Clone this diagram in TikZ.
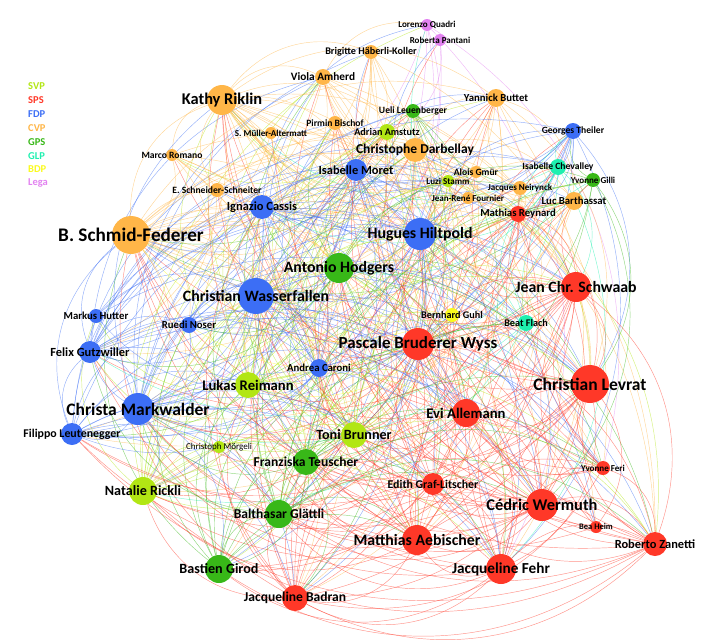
\documentclass[tikz,border=0pt]{standalone}
\usepackage{fontspec}
\setmainfont{Carlito}
\usetikzlibrary{positioning}
\definecolor{svp}{RGB}{178,230,20}
\definecolor{sps}{RGB}{255,56,40}
\definecolor{fdp}{RGB}{60,110,245}
\definecolor{cvp}{RGB}{255,182,72}
\definecolor{gps}{RGB}{56,184,24}
\definecolor{glp}{RGB}{30,240,175}
\definecolor{bdp}{RGB}{250,250,30}
\definecolor{lega}{RGB}{226,130,240}
\pgfdeclarelayer{edges}
\pgfdeclarelayer{labels}
\pgfsetlayers{edges,main,labels}
\tikzset{
  member/.style={circle, fill=#1, inner sep=0pt},
  name tag/.style={font=\bfseries\fontsize{#1}{#1}\selectfont, text=black, inner sep=0pt},
  link/.style={line width=0.45pt, draw=#1, draw opacity=0.55},
  party/.style={font=\bfseries\fontsize{10.5}{10.5}\selectfont, text=#1, anchor=west, inner sep=0pt}
}
\def\allnames{}
\begin{document}
\begin{tikzpicture}[x=1pt, y=-1pt]
		%%%%% START %%%%%
		\useasboundingbox (0,0) rectangle (720,640);
		\pgfmathsetseed{2015}
		
		% legend
		\node[party=svp] (lsvp) at (28, 86) {SVP};
		\node[party=sps] (lsps) at (28, 100) {SPS};
		\node[party=fdp] (lfdp) at (28, 114) {FDP};
		\node[party=cvp] (lcvp) at (28, 128) {CVP};
		\node[party=gps] (lgps) at (28, 142) {GPS};
		\node[party=glp] (lglp) at (28, 156) {GLP};
		\node[party=bdp] (lbdp) at (28, 169) {BDP};
		\node[party=lega] (llega) at (28, 183) {Lega};
		
		% members: name/x/y/radius/party/label size/label
		\foreach \nm/\x/\y/\r/\pc/\fs/\lb in {
			lquadri/427/25/6/lega/8/Lorenzo Quadri,
			rpantani/440/40/6/lega/8/Roberta Pantani,
			bhaeberli/371/52/7/cvp/9/Brigitte Häberli-Koller,
			vamherd/323/77/8/cvp/10/Viola Amherd,
			kriklin/222/100/15/cvp/14.5/Kathy Riklin,
			pbischof/335/123/7/cvp/8.5/Pirmin Bischof,
			smueller/271/133/6/cvp/8/S. Müller-Altermatt,
			uleuenberger/413/111/7/gps/8.5/Ueli Leuenberger,
			aamstutz/387/132/8/svp/9/Adrian Amstutz,
			ybuttet/496/98/9/cvp/9.5/Yannick Buttet,
			cdarbellay/415/150/12/cvp/12/Christophe Darbellay,
			gtheiler/573/131/8/fdp/8.5/Georges Theiler,
			mromano/172/155/6/cvp/8.5/Marco Romano,
			imoret/356/170/11/fdp/11/Isabelle Moret,
			agmuer/476/172/6/cvp/8.5/Alois Gmür,
			ichevalley/558/167/8/glp/8.5/Isabelle Chevalley,
			ygilli/593/180/7/gps/8/Yvonne Gilli,
			lstamm/448/181/6/svp/8/Luzi Stamm,
			jneirynck/520/188/7/cvp/8/Jacques Neirynck,
			jrfournier/468/198/6/cvp/8/Jean-René Fournier,
			eschneider/217/190/7/cvp/8.5/E. Schneider-Schneiter,
			lbarthassat/574/201/9/cvp/9.5/Luc Barthassat,
			icassis/262/207/12/fdp/11/Ignazio Cassis,
			mreynard/518/214/8/sps/9.5/Mathias Reynard,
			bschmid/131/235/19/cvp/17/B. Schmid-Federer,
			hhiltpold/420/234/16/fdp/14/Hugues Hiltpold,
			ahodgers/339/268/15/gps/14/Antonio Hodgers,
			jschwaab/576/287/15/sps/14/Jean Chr. Schwaab,
			cwasserfallen/256/296/18/fdp/14/Christian Wasserfallen,
			mhutter/96/316/7/fdp/9.5/Markus Hutter,
			rnoser/189/325/8/fdp/9.5/Ruedi Noser,
			bguhl/452/315/7/bdp/9/Bernhard Guhl,
			bflach/526/323/8/glp/9/Beat Flach,
			pbruderer/418/344/16/sps/15/Pascale Bruderer Wyss,
			fgutzwiller/90/352/11/fdp/11/Felix Gutzwiller,
			acaroni/319/368/9/fdp/9.5/Andrea Caroni,
			clevrat/590/384/19/sps/15.5/Christian Levrat,
			lreimann/248/385/13/svp/13/Lukas Reimann,
			cmarkwalder/138/409/16/fdp/15.5/Christa Markwalder,
			eallemann/466/413/14/sps/13/Evi Allemann,
			fleutenegger/72/434/11/fdp/10.5/Filippo Leutenegger,
			cmoergeli/219/447/6/svp/8/{\mdseries Christoph Mörgeli},
			tbrunner/354/435/13/svp/12.5/Toni Brunner,
			fteuscher/306/462/13/gps/12/Franziska Teuscher,
			yferi/603/468/7/sps/8/Yvonne Feri,
			egraf/433/484/11/sps/10.5/Edith Graf-Litscher,
			nrickli/143/491/14/svp/12.5/Natalie Rickli,
			cwermuth/542/505/16/sps/14.5/Cédric Wermuth,
			bglaettli/279/514/14/gps/12/Balthasar Glättli,
			bheim/596/527/6/sps/7.5/Bea Heim,
			maebischer/417/540/15/sps/14/Matthias Aebischer,
			rzanetti/655/544/12/sps/11/Roberto Zanetti,
			bgirod/219/569/14/gps/12.5/Bastien Girod,
			jfehr/501/569/15/sps/13.5/Jacqueline Fehr,
			jbadran/295/598/13/sps/12/Jacqueline Badran}{
			\pgfmathsetmacro\fsz{1.13*\fs}
			\node[member=\pc, minimum size=2*\r pt] (\nm) at (\x, \y) {};
			\begin{pgfonlayer}{labels}
				\node[name tag=\fsz] (\nm-tag) at (\nm) {\lb};
			\end{pgfonlayer}
			\expandafter\xdef\csname nr\nm\endcsname{\r}
			\expandafter\xdef\csname nc\nm\endcsname{\pc}
			\ifx\allnames\empty \xdef\allnames{\nm}\else \xdef\allnames{\allnames,\nm}\fi
		}
		
		% links, bent clockwise, coloured by their source
		\begin{pgfonlayer}{edges}
			\foreach \a [count=\i] in \allnames {
				\foreach \b [count=\j] in \allnames {
					\ifnum\j>\i
						\edef\pa{\csname nc\a\endcsname}
						\edef\pb{\csname nc\b\endcsname}
						\ifx\pa\pb \def\fac{2.4}\else \def\fac{0.8}\fi
						\pgfmathsetmacro\pr{(\csname nr\a\endcsname-4)*(\csname nr\b\endcsname-4)/85*\fac}
						\pgfmathtruncatemacro\hit{rnd<\pr}
						\ifnum\hit=1
							\pgfmathtruncatemacro\side{rnd<0.5}
							\ifnum\side=1
								\draw[link=\pa] (\a) to[bend left=36] (\b);
							\else
								\draw[link=\pb] (\b) to[bend left=36] (\a);
							\fi
						\fi
					\fi
				}
			}
		\end{pgfonlayer}
		
		%%%%% END %%%%%
	\end{tikzpicture}
\end{document}
